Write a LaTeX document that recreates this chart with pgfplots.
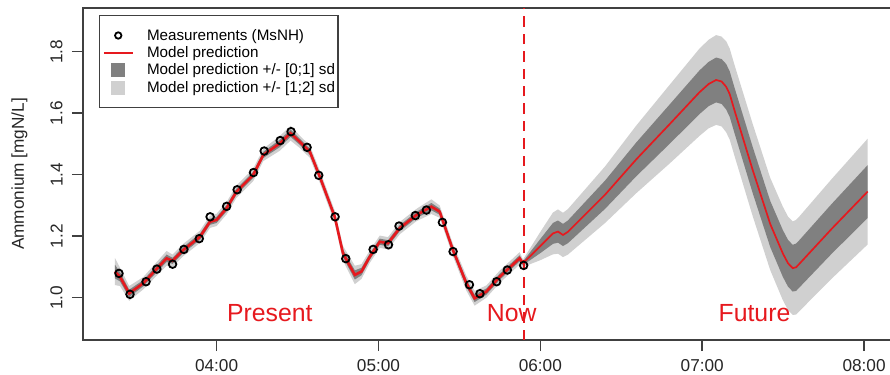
\documentclass[border=0pt]{standalone}
\usepackage{pgfplots}
\pgfplotsset{compat=1.18}
\usepackage{pgfplotstable}
\usepgfplotslibrary{fillbetween}
\usepackage{fontspec}
\setmainfont{Liberation Sans}
\definecolor{rred}{RGB}{230,25,30}
\definecolor{bdark}{RGB}{128,128,128}
\definecolor{blight}{RGB}{208,208,208}

\pgfplotstableread{
t m lo2 lo1 hi1 hi2
3.372 1.085 1.041 1.063 1.107 1.129
3.403 1.068 1.038 1.053 1.083 1.098
3.460 1.014 0.990 1.002 1.026 1.038
3.547 1.047 1.027 1.037 1.057 1.067
3.691 1.128 1.104 1.116 1.140 1.152
3.728 1.120 1.100 1.110 1.130 1.140
3.794 1.155 1.135 1.145 1.165 1.175
3.897 1.198 1.178 1.188 1.208 1.218
3.959 1.247 1.227 1.237 1.257 1.267
4.000 1.253 1.233 1.243 1.263 1.273
4.062 1.291 1.271 1.281 1.301 1.311
4.123 1.345 1.325 1.335 1.355 1.365
4.226 1.399 1.379 1.389 1.409 1.419
4.288 1.464 1.444 1.454 1.474 1.484
4.391 1.502 1.478 1.490 1.514 1.526
4.457 1.535 1.511 1.523 1.547 1.559
4.514 1.507 1.487 1.497 1.517 1.527
4.576 1.475 1.455 1.465 1.485 1.495
4.638 1.393 1.373 1.383 1.403 1.413
4.730 1.263 1.243 1.253 1.273 1.283
4.781 1.144 1.120 1.132 1.156 1.168
4.854 1.074 1.044 1.059 1.089 1.104
4.895 1.085 1.061 1.073 1.097 1.109
4.946 1.133 1.113 1.123 1.143 1.153
5.008 1.182 1.162 1.172 1.192 1.202
5.059 1.177 1.157 1.167 1.187 1.197
5.131 1.226 1.206 1.216 1.236 1.246
5.235 1.269 1.249 1.259 1.279 1.289
5.327 1.296 1.272 1.284 1.308 1.320
5.378 1.280 1.260 1.270 1.290 1.300
5.460 1.155 1.135 1.145 1.165 1.175
5.543 1.047 1.023 1.035 1.059 1.071
5.594 0.998 0.974 0.986 1.010 1.022
5.667 1.020 1.000 1.010 1.030 1.040
5.749 1.068 1.048 1.058 1.078 1.088
5.872 1.128 1.108 1.118 1.138 1.148
5.893 1.112 1.100 1.106 1.118 1.124
6.000 1.168 1.122 1.145 1.191 1.214
6.078 1.209 1.141 1.175 1.243 1.277
6.109 1.215 1.143 1.179 1.251 1.287
6.140 1.204 1.132 1.168 1.240 1.276
6.170 1.214 1.140 1.177 1.251 1.288
6.400 1.335 1.243 1.289 1.381 1.427
6.593 1.450 1.340 1.395 1.505 1.560
6.800 1.565 1.437 1.501 1.629 1.693
6.983 1.668 1.526 1.597 1.739 1.810
7.040 1.695 1.551 1.623 1.767 1.839
7.086 1.708 1.562 1.635 1.781 1.854
7.120 1.703 1.557 1.630 1.776 1.849
7.148 1.686 1.538 1.612 1.760 1.834
7.170 1.662 1.514 1.588 1.736 1.810
7.199 1.610 1.462 1.536 1.684 1.758
7.312 1.415 1.265 1.340 1.490 1.565
7.420 1.240 1.090 1.165 1.315 1.390
7.498 1.144 0.992 1.068 1.220 1.296
7.530 1.112 0.960 1.036 1.188 1.264
7.559 1.096 0.944 1.020 1.172 1.248
7.580 1.099 0.945 1.022 1.176 1.253
7.600 1.110 0.956 1.033 1.187 1.264
7.800 1.224 1.062 1.143 1.305 1.386
8.022 1.345 1.173 1.259 1.431 1.517
}\model

\pgfplotstableread{
t v
3.397 1.079
3.465 1.011
3.564 1.052
3.631 1.093
3.728 1.109
3.798 1.157
3.893 1.192
3.960 1.263
4.062 1.297
4.127 1.351
4.228 1.407
4.294 1.477
4.393 1.511
4.460 1.540
4.559 1.489
4.631 1.398
4.732 1.263
4.798 1.127
4.967 1.157
5.062 1.172
5.127 1.233
5.228 1.267
5.296 1.285
5.395 1.245
5.461 1.150
5.562 1.042
5.627 1.013
5.730 1.052
5.796 1.090
5.897 1.105
}\meas

\begin{document}
\begin{tikzpicture}
\begin{axis}[
  name=ax,
  scale only axis, width=406pt, height=166pt,
  xmin=3.1747, xmax=8.191, ymin=0.8624, ymax=1.9421,
  xtick={4,5,6,7,8}, xticklabels={04:00,05:00,06:00,07:00,08:00},
  ytick={1.0,1.2,1.4,1.6,1.8}, yticklabels={1.0,1.2,1.4,1.6,1.8},
  xtick pos=bottom, ytick pos=left,
  tick align=outside, major tick length=5.5pt,
  axis line style={black!75, line width=0.75pt},
  every tick/.style={black!75, line width=0.75pt},
  tick label style={font=\fontsize{8.6}{10}\selectfont, text=black!85},
  xticklabel style={anchor=north, inner sep=0pt},
  xticklabel shift=4pt,
  yticklabel style={rotate=90, anchor=south, inner sep=0pt},
  yticklabel shift=4.5pt,
  ylabel={Ammonium [mgN/L]},
  ylabel style={at={(axis description cs:-0.0782,0.5)}, anchor=center, font=\fontsize{8.6}{10}\selectfont, text=black!85},
  legend cell align=left,
  legend style={at={(rel axis cs:0,1)}, anchor=north west, xshift=8pt, yshift=-3.5pt,
    draw=black!75, line width=0.7pt, fill=white,
    font=\fontsize{7.6}{9}\selectfont, inner xsep=1.6pt, inner ysep=5.9pt,
    row sep=0.67pt, column sep=6.7pt,
    nodes={inner sep=0pt, text height=6.3pt, text depth=1.7pt}},
]
\addplot[name path=H2, draw=none, forget plot] table[x=t, y=hi2] {\model};
\addplot[name path=L2, draw=none, forget plot] table[x=t, y=lo2] {\model};
\addplot[name path=H1, draw=none, forget plot] table[x=t, y=hi1] {\model};
\addplot[name path=L1, draw=none, forget plot] table[x=t, y=lo1] {\model};
\addplot[blight, draw=none, forget plot] fill between[of=H2 and L2];
\addplot[bdark, draw=none, forget plot] fill between[of=H1 and L1];
\addplot[rred, line width=1.3pt, forget plot, restrict x to domain=3:5.894] table[x=t, y=m] {\model};
\addplot[rred, line width=0.85pt, forget plot, restrict x to domain=5.89:8.1] table[x=t, y=m] {\model};
\addplot[only marks, mark=o, mark size=1.9pt, mark options={black, line width=0.9pt}, forget plot] table[x=t, y=v] {\meas};
\addplot[rred, line width=1.15pt, dash pattern=on 5.2pt off 3.5pt, forget plot] coordinates {(5.897,0.8624) (5.897,1.9421)};

\node[text=rred, anchor=base, font=\fontsize{12.4}{14}\selectfont] at (axis cs:4.329,0.922) {Present};
\node[text=rred, anchor=base, font=\fontsize{12.4}{14}\selectfont] at (axis cs:5.823,0.922) {Now};
\node[text=rred, anchor=base, font=\fontsize{12.4}{14}\selectfont] at (axis cs:7.323,0.922) {Future};

\addlegendimage{legend image code/.code={\path[draw=none, fill=none] (0,-3.5pt) rectangle (14.35pt,3.5pt); \draw[black, fill=none, line width=0.9pt] (7.175pt,0pt) circle (1.6pt);}}
\addlegendentry{Measurements (MsNH)}
\addlegendimage{legend image code/.code={\path[draw=none, fill=none] (0,-3.5pt) rectangle (14.35pt,3.5pt); \draw[rred, line width=1pt] (0pt,0pt) -- (14.35pt,0pt);}}
\addlegendentry{Model prediction}
\addlegendimage{legend image code/.code={\path[draw=none, fill=none] (0,-3.5pt) rectangle (14.35pt,3.5pt); \fill[bdark, draw=none] (3.6pt,-3.5pt) rectangle (10.75pt,3.5pt);}}
\addlegendentry{Model prediction +/- [0;1] sd}
\addlegendimage{legend image code/.code={\path[draw=none, fill=none] (0,-3.5pt) rectangle (14.35pt,3.5pt); \fill[blight, draw=none] (3.6pt,-3.5pt) rectangle (10.75pt,3.5pt);}}
\addlegendentry{Model prediction +/- [1;2] sd}
\end{axis}
\pgfresetboundingbox
\path ([xshift=-41.5pt,yshift=-17.5pt]ax.south west) rectangle ([xshift=-2.5pt,yshift=4pt]ax.north east);
\end{tikzpicture}
\end{document}
